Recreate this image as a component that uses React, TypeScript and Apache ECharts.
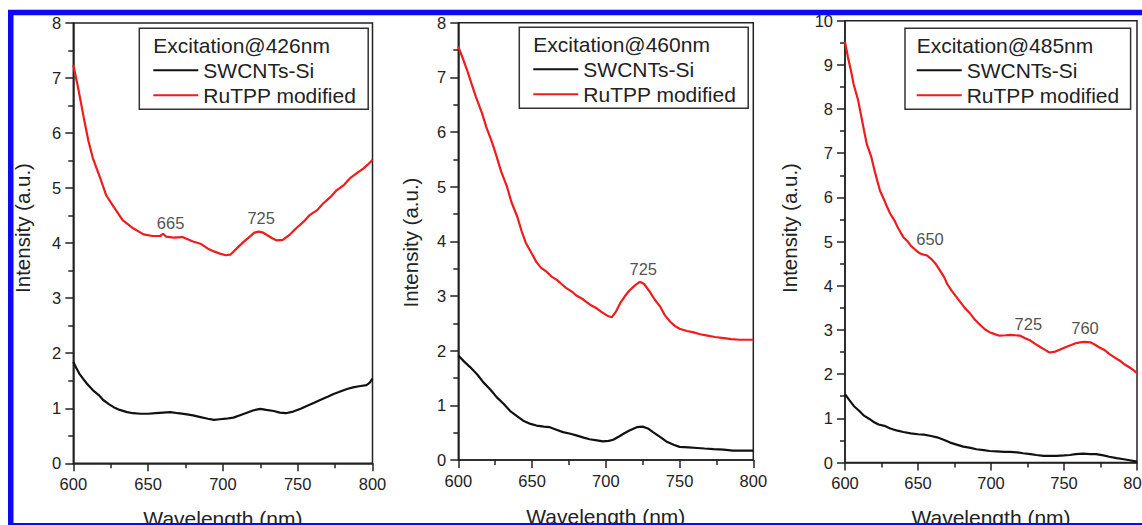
import React, { useEffect, useRef } from "react";
import * as echarts from "echarts";

// ---------- data ----------
const excitations = ["Excitation@426nm", "Excitation@460nm", "Excitation@485nm"];
const seriesNames = ["SWCNTs-Si", "RuTPP modified"];
const xMin = 600;
const xMax = 800;
const xInterval = 50;
const yMaxes = [8, 8, 10];

const red426: [number, number][] = [
  [600, 7.24], [603, 6.85], [607, 6.28], [610, 5.87], [613, 5.55], [618, 5.18], [622, 4.87],
  [627, 4.66], [633, 4.42], [640, 4.27], [647, 4.16], [653, 4.13], [658, 4.13], [660, 4.17],
  [662, 4.12], [667, 4.10], [673, 4.11], [680, 4.03], [685, 3.99], [690, 3.90], [694, 3.85],
  [698, 3.81], [702, 3.78], [705, 3.79], [708, 3.87], [711, 3.95], [715, 4.05], [718, 4.12],
  [721, 4.19], [724, 4.21], [727, 4.19], [730, 4.14], [733, 4.09], [736, 4.05], [740, 4.06],
  [745, 4.16], [749, 4.27], [754, 4.39], [758, 4.51], [763, 4.60], [767, 4.72], [772, 4.84],
  [776, 4.96], [781, 5.06], [785, 5.18], [790, 5.28], [794, 5.36], [797, 5.43], [800, 5.51],
];
const black426: [number, number][] = [
  [600, 1.84], [602, 1.73], [604, 1.63], [607, 1.52], [609, 1.45], [613, 1.33], [617, 1.24],
  [620, 1.15], [624, 1.07], [627, 1.02], [631, 0.97], [636, 0.93], [640, 0.91], [645, 0.90],
  [650, 0.90], [655, 0.91], [660, 0.92], [665, 0.93], [670, 0.91], [676, 0.89], [680, 0.87],
  [685, 0.84], [690, 0.81], [694, 0.79], [698, 0.80], [702, 0.81], [707, 0.83], [711, 0.87],
  [716, 0.92], [720, 0.96], [725, 0.99], [729, 0.97], [734, 0.95], [738, 0.92], [742, 0.91],
  [747, 0.94], [752, 0.99], [756, 1.04], [761, 1.10], [765, 1.15], [770, 1.21], [774, 1.26],
  [778, 1.30], [783, 1.35], [787, 1.38], [791, 1.40], [796, 1.42], [798, 1.46], [800, 1.54],
];
const red460: [number, number][] = [
  [600, 7.56], [603, 7.35], [606, 7.13], [609, 6.88], [612, 6.64], [616, 6.35], [619, 6.09],
  [623, 5.80], [626, 5.55], [629, 5.28], [633, 5.00], [636, 4.72], [640, 4.45], [643, 4.18],
  [646, 3.96], [650, 3.77], [653, 3.62], [656, 3.52], [660, 3.44], [663, 3.36], [667, 3.29],
  [670, 3.22], [673, 3.15], [677, 3.08], [680, 3.01], [684, 2.95], [687, 2.89], [690, 2.83],
  [694, 2.77], [697, 2.71], [701, 2.64], [704, 2.61], [707, 2.72], [710, 2.88], [713, 3.00],
  [716, 3.10], [720, 3.20], [723, 3.26], [726, 3.22], [730, 3.07], [733, 2.94], [737, 2.80],
  [740, 2.65], [744, 2.52], [747, 2.45], [750, 2.40], [755, 2.36], [759, 2.34], [764, 2.30],
  [768, 2.28], [774, 2.25], [780, 2.23], [785, 2.21], [791, 2.20], [796, 2.20], [800, 2.20],
];
const black460: [number, number][] = [
  [600, 1.91], [604, 1.80], [608, 1.70], [613, 1.56], [617, 1.42], [622, 1.28], [626, 1.15],
  [631, 1.02], [635, 0.90], [640, 0.80], [644, 0.72], [649, 0.66], [653, 0.63], [658, 0.61],
  [662, 0.60], [667, 0.55], [671, 0.51], [676, 0.48], [680, 0.45], [685, 0.41], [689, 0.38],
  [694, 0.36], [698, 0.34], [702, 0.35], [705, 0.37], [709, 0.43], [712, 0.48], [716, 0.54],
  [721, 0.60], [725, 0.61], [729, 0.57], [732, 0.51], [737, 0.42], [741, 0.34], [746, 0.28],
  [750, 0.24], [756, 0.23], [762, 0.22], [767, 0.21], [773, 0.20], [780, 0.19], [786, 0.17],
  [793, 0.17], [800, 0.17],
];
const red485: [number, number][] = [
  [600, 9.52], [602, 9.18], [604, 8.88], [606, 8.55], [609, 8.20], [611, 7.86], [613, 7.52],
  [615, 7.20], [618, 6.92], [620, 6.64], [622, 6.39], [624, 6.15], [627, 5.93], [629, 5.77],
  [631, 5.63], [634, 5.47], [636, 5.33], [638, 5.21], [640, 5.10], [643, 5.00], [645, 4.91],
  [648, 4.82], [651, 4.74], [653, 4.71], [656, 4.69], [659, 4.61], [662, 4.50], [665, 4.35],
  [668, 4.19], [670, 4.04], [673, 3.89], [676, 3.76], [679, 3.63], [682, 3.50], [686, 3.36],
  [689, 3.23], [693, 3.10], [696, 3.01], [699, 2.95], [703, 2.90], [706, 2.87], [710, 2.88],
  [713, 2.89], [717, 2.88], [720, 2.87], [723, 2.82], [727, 2.76], [730, 2.69], [734, 2.61],
  [737, 2.55], [740, 2.49], [744, 2.51], [747, 2.55], [751, 2.61], [754, 2.65], [758, 2.70],
  [761, 2.72], [764, 2.73], [768, 2.72], [771, 2.67], [774, 2.61], [778, 2.54], [781, 2.46],
  [784, 2.39], [788, 2.31], [791, 2.23], [795, 2.15], [798, 2.08], [800, 2.02],
];
const black485: [number, number][] = [
  [600, 1.55], [603, 1.41], [606, 1.28], [610, 1.16], [613, 1.06], [617, 0.98], [620, 0.91],
  [623, 0.86], [627, 0.83], [631, 0.77], [636, 0.72], [640, 0.69], [645, 0.66], [650, 0.64],
  [654, 0.63], [659, 0.60], [663, 0.57], [668, 0.51], [672, 0.45], [677, 0.40], [681, 0.36],
  [686, 0.33], [690, 0.30], [695, 0.28], [699, 0.26], [704, 0.25], [709, 0.24], [713, 0.24],
  [718, 0.23], [722, 0.21], [727, 0.19], [731, 0.17], [736, 0.15], [740, 0.15], [745, 0.15],
  [750, 0.16], [754, 0.17], [758, 0.19], [763, 0.20], [768, 0.19], [772, 0.19], [777, 0.16],
  [781, 0.13], [786, 0.10], [790, 0.08], [795, 0.05], [800, 0.02],
];

// peak annotations: [wavelength position, intensity position, label]
const peaks426: [number, number, string][] = [[665, 4.36, "665"], [725.6, 4.45, "725"]];
const peaks460: [number, number, string][] = [[725.4, 3.5, "725"]];
const peaks485: [number, number, string][] = [[658.2, 5.06, "650"], [725.6, 3.13, "725"], [764.4, 3.04, "760"]];

const blackSeries = [black426, black460, black485];
const redSeries = [red426, red460, red485];
const peakSeries = [peaks426, peaks460, peaks485];

// ---------- layout ----------
const FONT = "'Liberation Sans', Arial, Helvetica, sans-serif";
const INK = "#222";
const RED = "#ee1c1c";
const BLACK = "#111";
const grids = [
  { left: 73.3, top: 23, width: 299.2, height: 440.3 },
  { left: 458.3, top: 22.7, width: 295, height: 437.3 },
  { left: 845, top: 20.7, width: 292, height: 441.8 },
];
const legendBoxes = [
  { left: 139.3, top: 28.3, padL: 14, padR: 12 },
  { left: 519.3, top: 27.3, padL: 14, padR: 12 },
  { left: 905, top: 28.3, padL: 11.7, padR: 11 },
];
const yTitlePos = [
  [22.5, 228],
  [410.8, 242.5],
  [789, 228],
];
const xNameGaps = [44.5, 46, 44.5];

export default function App() {
  const ref = useRef<HTMLDivElement>(null);
  useEffect(() => {
    if (!ref.current) return;
    const chart = echarts.init(ref.current, null, { renderer: "svg" });

    const xAxis = grids.map((_, i) => ({
      type: "value",
      gridIndex: i,
      min: xMin,
      max: xMax,
      interval: xInterval,
      name: "Wavelength (nm)",
      nameLocation: "middle",
      nameGap: xNameGaps[i],
      nameTextStyle: { fontSize: 21, color: INK, fontFamily: FONT },
      axisLine: { show: true, onZero: false, lineStyle: { color: INK, width: 1.5 } },
      axisTick: { show: true, inside: false, length: 8, lineStyle: { color: INK, width: 1.5 } },
      minorTick: { show: true, splitNumber: 2, length: 5, lineStyle: { color: INK, width: 1.5 } },
      axisLabel: { fontSize: 16.5, color: INK, fontFamily: FONT, margin: 12 },
      splitLine: { show: false },
      minorSplitLine: { show: false },
    }));
    const yAxis = grids.map((_, i) => ({
      type: "value",
      gridIndex: i,
      min: 0,
      max: yMaxes[i],
      interval: 1,
      axisLine: { show: true, onZero: false, lineStyle: { color: INK, width: 1.5 } },
      axisTick: { show: true, inside: false, length: 8, lineStyle: { color: INK, width: 1.5 } },
      minorTick: { show: true, splitNumber: 2, length: 5, lineStyle: { color: INK, width: 1.5 } },
      axisLabel: { fontSize: 16.5, color: INK, fontFamily: FONT, margin: 12 },
      splitLine: { show: false },
      minorSplitLine: { show: false },
    }));

    const series: any[] = [];
    grids.forEach((_, i) => {
      series.push({
        type: "line",
        name: seriesNames[0],
        xAxisIndex: i,
        yAxisIndex: i,
        data: blackSeries[i],
        symbol: "none",
        lineStyle: { color: BLACK, width: 2.2 },
        itemStyle: { color: BLACK },
      });
      series.push({
        type: "line",
        name: seriesNames[1],
        xAxisIndex: i,
        yAxisIndex: i,
        data: redSeries[i],
        symbol: "none",
        lineStyle: { color: RED, width: 2.2 },
        itemStyle: { color: RED },
      });
      series.push({
        type: "scatter",
        xAxisIndex: i,
        yAxisIndex: i,
        data: peakSeries[i],
        symbolSize: 1,
        silent: true,
        itemStyle: { color: "rgba(0,0,0,0)" },
        label: {
          show: true,
          position: "inside",
          formatter: (p: any) => p.value[2],
          fontSize: 16.5,
          color: INK,
          fontFamily: FONT,
        },
      });
    });

    const legend = legendBoxes.map((b) => ({
      left: b.left,
      top: b.top,
      orient: "vertical",
      padding: [31.5, b.padR, 3.5, b.padL],
      borderColor: "#333",
      borderWidth: 1.5,
      backgroundColor: "#fff",
      itemWidth: 45,
      itemHeight: 2,
      itemGap: 4,
      icon: "rect",
      selectedMode: false,
      textStyle: { fontSize: 21, color: INK, fontFamily: FONT },
      data: seriesNames,
    }));

    const graphic: any[] = [];
    legendBoxes.forEach((b, i) => {
      graphic.push({
        type: "text",
        x: b.left + b.padL,
        y: b.top + 17,
        z: 50,
        style: {
          text: excitations[i],
          fontSize: 21,
          fill: INK,
          fontFamily: FONT,
          align: "left",
          verticalAlign: "middle",
        },
      });
    });
    yTitlePos.forEach((p) => {
      graphic.push({
        type: "text",
        x: p[0],
        y: p[1],
        rotation: Math.PI / 2,
        style: {
          text: "Intensity (a.u.)",
          fontSize: 20.5,
          fill: INK,
          fontFamily: FONT,
          align: "center",
          verticalAlign: "middle",
        },
      });
    });
    graphic.push({
      type: "rect",
      z: 100,
      shape: { x: 10.75, y: 12.6, width: 1160, height: 513.2 },
      style: { fill: "none", stroke: "#0a0af5", lineWidth: 5.5 },
      silent: true,
    });

    chart.setOption({
      animation: false,
      backgroundColor: "#fff",
      grid: grids.map((g) => ({
        ...g,
        show: true,
        borderColor: INK,
        borderWidth: 1.5,
        backgroundColor: "transparent",
        containLabel: false,
        outerBoundsMode: "none",
      })),
      xAxis,
      yAxis,
      legend,
      series,
      graphic,
    });
    return () => chart.dispose();
  }, []);

  return (
    <div
      ref={ref}
      style={{ position: "absolute", left: 0, top: 0, width: 1142, height: 525, background: "#fff" }}
    />
  );
}
